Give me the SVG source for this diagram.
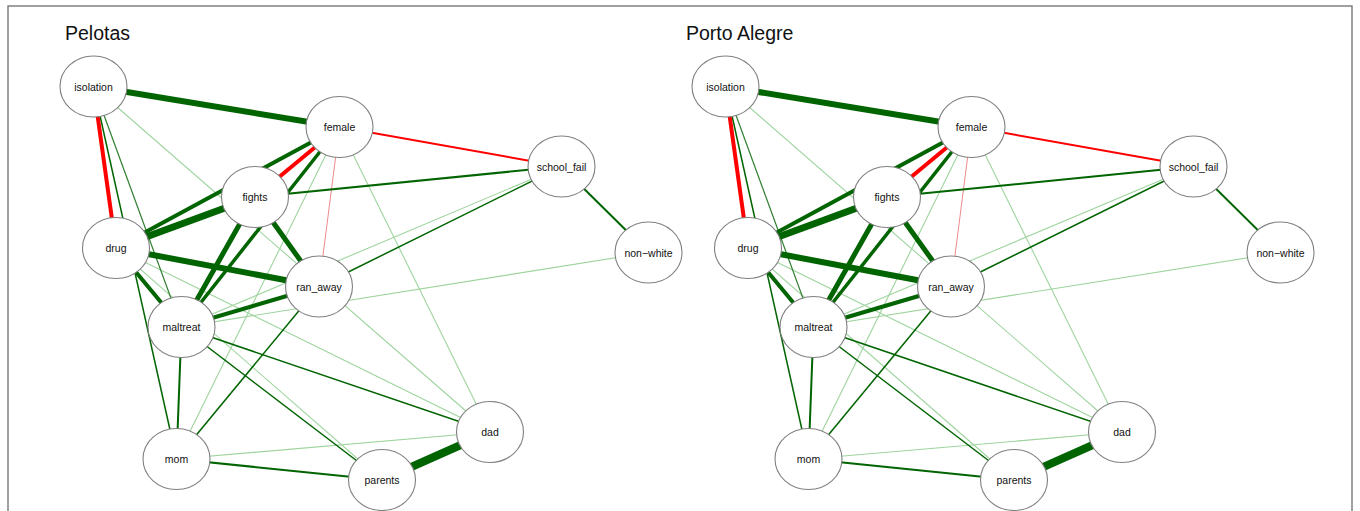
<svg xmlns="http://www.w3.org/2000/svg" width="1360" height="511" viewBox="0 0 1360 511">
<style>
.n ellipse{fill:#fff;stroke:#808080;stroke-width:1.1}
.n text{font-family:"Liberation Sans",Arial,sans-serif;font-size:10.5px;fill:#111;text-anchor:middle;dominant-baseline:central}
.t{font-family:"Liberation Sans",Arial,sans-serif;font-size:19.5px;fill:#111}
.e line{stroke-linecap:butt}
.d{stroke:#006400}
.m{stroke:#2f7f2f}
.l{stroke:#9ed49e}
.r{stroke:#ff0000}
.p{stroke:#f08a8a}
</style>
<rect x="8" y="6" width="1344" height="540" fill="#fff" stroke="#6e6e6e" stroke-width="1.3"/>
<text class="t" x="65" y="39.5">Pelotas</text>
<text class="t" x="686" y="39.5">Porto Alegre</text>

<g id="net-pelotas">
<g id="edges-pelotas" class="e">
<line class="l" x1="93.5" y1="86.5" x2="490" y2="432" stroke-width="1.1"/>
<line class="l" x1="339.5" y1="127" x2="176.5" y2="459" stroke-width="1.1"/>
<line class="l" x1="339.5" y1="127" x2="490" y2="432" stroke-width="1.1"/>
<line class="l" x1="116" y1="248" x2="490" y2="432" stroke-width="1.1"/>
<line class="l" x1="116" y1="248" x2="382" y2="480" stroke-width="1.1"/>
<line class="l" x1="561.5" y1="166.5" x2="181.5" y2="327" stroke-width="1.1"/>
<line class="l" x1="648.5" y1="252.5" x2="181.5" y2="327" stroke-width="1.1"/>
<line class="l" x1="176.5" y1="459" x2="490" y2="432" stroke-width="1.1"/>
<line class="p" x1="339.5" y1="127" x2="319" y2="286.5" stroke-width="1"/>
<line class="d" x1="93.5" y1="86.5" x2="176.5" y2="459" stroke-width="1.5"/>
<line class="m" x1="93.5" y1="86.5" x2="181.5" y2="327" stroke-width="1.2"/>
<line class="d" x1="561.5" y1="166.5" x2="319" y2="286.5" stroke-width="1.5"/>
<line class="d" x1="319" y1="286.5" x2="176.5" y2="459" stroke-width="1.5"/>
<line class="d" x1="181.5" y1="327" x2="382" y2="480" stroke-width="1.5"/>
<line class="d" x1="181.5" y1="327" x2="490" y2="432" stroke-width="1.5"/>
<line class="d" x1="181.5" y1="327" x2="176.5" y2="459" stroke-width="2"/>
<line class="d" x1="176.5" y1="459" x2="382" y2="480" stroke-width="2"/>
<line class="d" x1="561.5" y1="166.5" x2="648.5" y2="252.5" stroke-width="2"/>
<line class="d" x1="255" y1="197" x2="561.5" y2="166.5" stroke-width="2"/>
<line class="r" x1="339.5" y1="127" x2="561.5" y2="166.5" stroke-width="2"/>
<line class="d" x1="339.5" y1="127" x2="181.5" y2="327" stroke-width="3.5"/>
<line class="d" x1="339.5" y1="127" x2="116" y2="248" stroke-width="4"/>
<line class="r" x1="339.5" y1="127" x2="255" y2="197" stroke-width="4"/>
<line class="r" x1="93.5" y1="86.5" x2="116" y2="248" stroke-width="4"/>
<line class="d" x1="116" y1="248" x2="181.5" y2="327" stroke-width="4"/>
<line class="d" x1="319" y1="286.5" x2="181.5" y2="327" stroke-width="4"/>
<line class="d" x1="255" y1="197" x2="181.5" y2="327" stroke-width="5"/>
<line class="d" x1="255" y1="197" x2="319" y2="286.5" stroke-width="5"/>
<line class="d" x1="116" y1="248" x2="319" y2="286.5" stroke-width="6"/>
<line class="d" x1="93.5" y1="86.5" x2="339.5" y2="127" stroke-width="6"/>
<line class="d" x1="255" y1="197" x2="116" y2="248" stroke-width="7"/>
<line class="d" x1="382" y1="480" x2="490" y2="432" stroke-width="8"/>
</g>
<g id="p-isolation" class="n"><ellipse cx="93.5" cy="86.5" rx="33.5" ry="30.5"/><text x="93.5" y="86.5">isolation</text></g>
<g id="p-female" class="n"><ellipse cx="339.5" cy="127" rx="33.5" ry="30.5"/><text x="339.5" y="127">female</text></g>
<g id="p-school_fail" class="n"><ellipse cx="561.5" cy="166.5" rx="33.5" ry="30.5"/><text x="561.5" y="166.5">school_fail</text></g>
<g id="p-fights" class="n"><ellipse cx="255" cy="197" rx="33.5" ry="30.5"/><text x="255" y="197">fights</text></g>
<g id="p-drug" class="n"><ellipse cx="116" cy="248" rx="33.5" ry="30.5"/><text x="116" y="248">drug</text></g>
<g id="p-non-white" class="n"><ellipse cx="648.5" cy="252.5" rx="33.5" ry="30.5"/><text x="648.5" y="252.5">non−white</text></g>
<g id="p-ran_away" class="n"><ellipse cx="319" cy="286.5" rx="33.5" ry="30.5"/><text x="319" y="286.5">ran_away</text></g>
<g id="p-maltreat" class="n"><ellipse cx="181.5" cy="327" rx="33.5" ry="30.5"/><text x="181.5" y="327">maltreat</text></g>
<g id="p-dad" class="n"><ellipse cx="490" cy="432" rx="33.5" ry="30.5"/><text x="490" y="432">dad</text></g>
<g id="p-mom" class="n"><ellipse cx="176.5" cy="459" rx="33.5" ry="30.5"/><text x="176.5" y="459">mom</text></g>
<g id="p-parents" class="n"><ellipse cx="382" cy="480" rx="33.5" ry="30.5"/><text x="382" y="480">parents</text></g>
</g>

<g id="net-porto-alegre" transform="translate(632,0)">
<g id="edges-porto-alegre" class="e">
<line class="l" x1="93.5" y1="86.5" x2="490" y2="432" stroke-width="1.1"/>
<line class="l" x1="339.5" y1="127" x2="176.5" y2="459" stroke-width="1.1"/>
<line class="l" x1="339.5" y1="127" x2="490" y2="432" stroke-width="1.1"/>
<line class="l" x1="116" y1="248" x2="490" y2="432" stroke-width="1.1"/>
<line class="l" x1="116" y1="248" x2="382" y2="480" stroke-width="1.1"/>
<line class="l" x1="561.5" y1="166.5" x2="181.5" y2="327" stroke-width="1.1"/>
<line class="l" x1="648.5" y1="252.5" x2="181.5" y2="327" stroke-width="1.1"/>
<line class="l" x1="176.5" y1="459" x2="490" y2="432" stroke-width="1.1"/>
<line class="p" x1="339.5" y1="127" x2="319" y2="286.5" stroke-width="1"/>
<line class="d" x1="93.5" y1="86.5" x2="176.5" y2="459" stroke-width="1.5"/>
<line class="m" x1="93.5" y1="86.5" x2="181.5" y2="327" stroke-width="1.2"/>
<line class="d" x1="561.5" y1="166.5" x2="319" y2="286.5" stroke-width="1.5"/>
<line class="d" x1="319" y1="286.5" x2="176.5" y2="459" stroke-width="1.5"/>
<line class="d" x1="181.5" y1="327" x2="382" y2="480" stroke-width="1.5"/>
<line class="d" x1="181.5" y1="327" x2="490" y2="432" stroke-width="1.5"/>
<line class="d" x1="181.5" y1="327" x2="176.5" y2="459" stroke-width="2"/>
<line class="d" x1="176.5" y1="459" x2="382" y2="480" stroke-width="2"/>
<line class="d" x1="561.5" y1="166.5" x2="648.5" y2="252.5" stroke-width="2"/>
<line class="d" x1="255" y1="197" x2="561.5" y2="166.5" stroke-width="2"/>
<line class="r" x1="339.5" y1="127" x2="561.5" y2="166.5" stroke-width="2"/>
<line class="d" x1="339.5" y1="127" x2="181.5" y2="327" stroke-width="3.5"/>
<line class="d" x1="339.5" y1="127" x2="116" y2="248" stroke-width="4"/>
<line class="r" x1="339.5" y1="127" x2="255" y2="197" stroke-width="4"/>
<line class="r" x1="93.5" y1="86.5" x2="116" y2="248" stroke-width="4"/>
<line class="d" x1="116" y1="248" x2="181.5" y2="327" stroke-width="4"/>
<line class="d" x1="319" y1="286.5" x2="181.5" y2="327" stroke-width="4"/>
<line class="d" x1="255" y1="197" x2="181.5" y2="327" stroke-width="5"/>
<line class="d" x1="255" y1="197" x2="319" y2="286.5" stroke-width="5"/>
<line class="d" x1="116" y1="248" x2="319" y2="286.5" stroke-width="6"/>
<line class="d" x1="93.5" y1="86.5" x2="339.5" y2="127" stroke-width="6"/>
<line class="d" x1="255" y1="197" x2="116" y2="248" stroke-width="7"/>
<line class="d" x1="382" y1="480" x2="490" y2="432" stroke-width="8"/>
</g>
<g id="a-isolation" class="n"><ellipse cx="93.5" cy="86.5" rx="33.5" ry="30.5"/><text x="93.5" y="86.5">isolation</text></g>
<g id="a-female" class="n"><ellipse cx="339.5" cy="127" rx="33.5" ry="30.5"/><text x="339.5" y="127">female</text></g>
<g id="a-school_fail" class="n"><ellipse cx="561.5" cy="166.5" rx="33.5" ry="30.5"/><text x="561.5" y="166.5">school_fail</text></g>
<g id="a-fights" class="n"><ellipse cx="255" cy="197" rx="33.5" ry="30.5"/><text x="255" y="197">fights</text></g>
<g id="a-drug" class="n"><ellipse cx="116" cy="248" rx="33.5" ry="30.5"/><text x="116" y="248">drug</text></g>
<g id="a-non-white" class="n"><ellipse cx="648.5" cy="252.5" rx="33.5" ry="30.5"/><text x="648.5" y="252.5">non−white</text></g>
<g id="a-ran_away" class="n"><ellipse cx="319" cy="286.5" rx="33.5" ry="30.5"/><text x="319" y="286.5">ran_away</text></g>
<g id="a-maltreat" class="n"><ellipse cx="181.5" cy="327" rx="33.5" ry="30.5"/><text x="181.5" y="327">maltreat</text></g>
<g id="a-dad" class="n"><ellipse cx="490" cy="432" rx="33.5" ry="30.5"/><text x="490" y="432">dad</text></g>
<g id="a-mom" class="n"><ellipse cx="176.5" cy="459" rx="33.5" ry="30.5"/><text x="176.5" y="459">mom</text></g>
<g id="a-parents" class="n"><ellipse cx="382" cy="480" rx="33.5" ry="30.5"/><text x="382" y="480">parents</text></g>
</g>
</svg>
